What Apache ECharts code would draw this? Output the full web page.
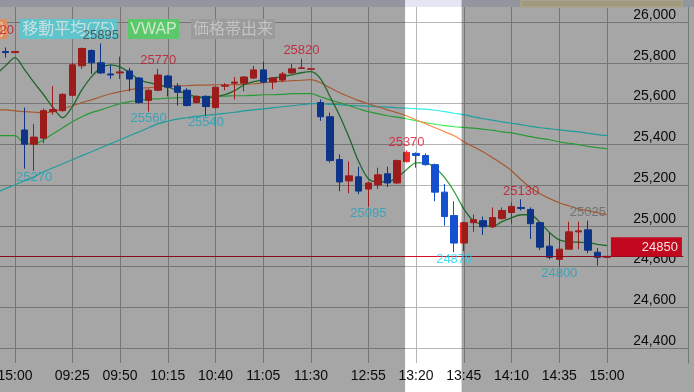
<!DOCTYPE html>
<html><head><meta charset="utf-8">
<script src="https://cdn.jsdelivr.net/npm/echarts@6/dist/echarts.min.js"></script>
<style>html,body{margin:0;padding:0;background:#fff}#c{width:694px;height:392px}</style>
</head><body><div id="c"></div>
<script>
// ---------- DATA ----------
const times = ['14:50','14:55','15:00',
'09:00','09:05','09:10','09:15','09:20','09:25','09:30','09:35','09:40','09:45','09:50','09:55',
'10:00','10:05','10:10','10:15','10:20','10:25','10:30','10:35','10:40','10:45','10:50','10:55',
'11:00','11:05','11:10','11:15','11:20','11:25','11:30',
'12:30','12:35','12:40','12:45','12:50','12:55','13:00','13:05','13:10','13:15','13:20','13:25',
'13:30','13:35','13:40','13:45','13:50','13:55','14:00','14:05','14:10','14:15','14:20','14:25',
'14:30','14:35','14:40','14:45','14:50','14:55','15:00',
'','','','','','','',''];
const tickLabels = ['15:00','09:25','09:50','10:15','10:40','11:05','11:30','12:55','13:20','13:45','14:10','14:35'];
const yTicks = [24400,24600,24800,25000,25200,25400,25600,25800,26000];

const opens  = [25870,25855,25850,25470,25400,25430,25560,25565,25640,25785,25860,25800,25745,25750,25760,25725,25615,25665,25735,25685,25665,25605,25635,25580,25685,25700,25700,25725,25765,25705,25715,25750,25772,25768,25605,25535,25325,25220,25240,25180,25200,25255,25210,25315,25355,25345,25300,25165,25050,24915,25015,25025,24995,25035,25065,25090,25080,25015,24900,24835,24885,24970,24980,24870,24845];
const closes = [25855,25850,25855,25400,25435,25565,25570,25645,25790,25870,25800,25750,25740,25755,25720,25605,25665,25740,25680,25655,25590,25635,25585,25680,25690,25705,25730,25765,25705,25725,25745,25770,25775,25770,25535,25320,25215,25245,25170,25210,25250,25210,25320,25360,25345,25300,25165,25045,24915,25015,25030,24995,25040,25075,25095,25085,25010,24895,24845,24885,24970,24975,24880,24845,24850];
const lows   = [25840,25825,25850,25280,25270,25405,25545,25560,25635,25770,25745,25745,25720,25720,25660,25600,25560,25660,25635,25590,25585,25600,25540,25575,25665,25620,25660,25720,25700,25670,25705,25745,25770,25765,25515,25310,25170,25160,25155,25095,25180,25190,25205,25310,25285,25295,25120,25000,24870,24875,24970,24955,24990,25030,25010,25075,24935,24880,24835,24800,24885,24885,24865,24805,24845];
const highs  = [25920,25875,25855,25580,25500,25575,25685,25650,25800,25875,25865,25895,25790,25830,25775,25730,25670,25770,25740,25700,25675,25640,25640,25685,25700,25730,25735,25785,25805,25730,25755,25795,25820,25772,25620,25555,25350,25315,25290,25215,25285,25290,25325,25370,25360,25355,25305,25205,25120,25020,25055,25045,25090,25090,25115,25130,25090,25020,24965,24935,25020,25020,25025,24890,24850];

const ma5  = [25741,25785,25825,25766,25702,25643,25579,25530,25584,25667,25731,25775,25790,25780,25751,25717,25702,25692,25682,25663,25648,25633,25628,25633,25643,25663,25692,25707,25717,25726,25731,25741,25751,25756,25721,25633,25540,25432,25314,25231,25216,25216,25236,25275,25309,25309,25285,25236,25167,25083,25025,25005,24995,25020,25039,25054,25054,25015,24966,24931,24921,24919,24917,24909,24902];
const ma25 = [25569,25569,25564,25560,25557,25555,25560,25574,25589,25604,25618,25633,25648,25658,25667,25675,25677,25682,25685,25687,25687,25690,25690,25692,25692,25692,25694,25697,25702,25707,25709,25712,25714,25717,25702,25677,25653,25633,25614,25599,25584,25569,25555,25540,25520,25501,25481,25461,25442,25412,25388,25363,25334,25304,25270,25226,25187,25157,25133,25113,25098,25083,25074,25064,25054];
const ma75 = [25162,25182,25201,25221,25240,25265,25285,25304,25324,25344,25363,25383,25402,25422,25442,25461,25481,25501,25513,25523,25530,25537,25542,25547,25552,25557,25564,25569,25574,25579,25584,25589,25594,25599,25599,25596,25594,25591,25589,25587,25584,25582,25579,25577,25574,25572,25567,25560,25552,25545,25535,25525,25518,25510,25503,25496,25488,25481,25476,25471,25466,25461,25454,25447,25442];
const vwap = [25442,25442,25442,25405,25402,25422,25452,25481,25510,25535,25555,25569,25584,25599,25609,25616,25621,25623,25626,25628,25631,25633,25633,25636,25636,25638,25638,25640,25643,25643,25645,25648,25648,25648,25633,25618,25604,25589,25574,25560,25550,25540,25533,25525,25515,25506,25498,25491,25486,25483,25479,25474,25469,25461,25456,25447,25437,25429,25422,25412,25405,25398,25390,25383,25378];

const highMarks = [[0,25920],[17,25770],[32,25820],[43,25370],[55,25130]];
const lowMarks  = [[4,25270],[16,25560],[22,25540],[39,25095],[48,24870],[59,24800]];
const grayMarks = [[11,25895],[62,25025]];
const currentPrice = 24850;
const highlightRange = [42.85, 48.77]; // highlighted time window, in category positions

// ---------- STYLE ----------
const FONT = '"Liberation Sans", Arial, "Noto Sans CJK JP", sans-serif';
const GRID = '#b6b6b6';
const RED = '#f02c2c', BLUE = '#1450d0';

const chart = echarts.init(document.getElementById('c'), null, {renderer: 'canvas'});
const candles = opens.map((o, i) => [o, closes[i], lows[i], highs[i]]);
const tickIdx = new Set();
times.forEach((t, i) => { if (tickLabels.indexOf(t) >= 0) tickIdx.add(i); });
const isTick = idx => tickIdx.has(idx);
const inBand = i => i >= highlightRange[0] && i <= highlightRange[1];

const labelPoints = [].concat(
  highMarks.map(([i, v]) => ({value: [i, v], label: {position: 'top', distance: 1, color: inBand(i) ? '#e4102a' : '#c0142a'}})),
  lowMarks.map(([i, v]) => ({value: [i, v], label: {position: 'bottom', distance: 0, color: inBand(i) ? '#12d6f6' : '#20a2bc'}})),
  grayMarks.map(([i, v], k) => ({value: [i, v], label: {position: 'top', distance: 1, color: k === 0 ? '#444444' : '#666666'}}))
);

function lineSeries(name, data, color, width) {
  return {type: 'line', name, xAxisIndex: 2, yAxisIndex: 2, data, showSymbol: false, symbol: 'none',
    smooth: 0.3, lineStyle: {color, width}, silent: true, z: 3};
}

const option = {
  animation: false,
  backgroundColor: '#ffffff',
  textStyle: {fontFamily: FONT},
  grid: [
    {left: -4.1, right: 10.6, top: 7, bottom: 29, outerBoundsMode: 'none'},
    {left: 0, right: 6, top: 22, bottom: 44, outerBoundsMode: 'none'},
    {left: -4.1, right: 10.6, top: 22, bottom: 44, outerBoundsMode: 'none'},
    {left: 0, right: 6, top: 7, bottom: 29, outerBoundsMode: 'none'}
  ],
  xAxis: [
    {gridIndex: 0, type: 'category', data: times, boundaryGap: false,
     axisLine: {show: false, onZero: false}, axisTick: {show: false},
     splitLine: {show: true, interval: isTick, lineStyle: {color: GRID, width: 1}},
     axisLabel: {interval: 0, formatter: (val, idx) => isTick(idx) ? val : '', hideOverlap: false,
       color: '#111', fontSize: 14, margin: 6, fontFamily: FONT}},
    {gridIndex: 1, type: 'value', show: false},
    {gridIndex: 2, type: 'category', data: times, boundaryGap: false, show: false, axisLine: {onZero: false}},
    {gridIndex: 3, type: 'value', show: false}
  ],
  yAxis: [
    {gridIndex: 0, type: 'value', show: false},
    {gridIndex: 1, type: 'value', min: yTicks[0], max: yTicks[yTicks.length - 1], interval: 200, position: 'right',
     axisLine: {show: false, onZero: false}, axisTick: {show: false},
     splitLine: {show: true, lineStyle: {color: GRID, width: 1}},
     axisLabel: {inside: true, margin: 12, verticalAlign: 'bottom', fontSize: 14, color: '#111', fontFamily: FONT,
       formatter: v => v.toLocaleString('en-US')}},
    {gridIndex: 2, type: 'value', min: yTicks[0], max: yTicks[yTicks.length - 1], show: false},
    {gridIndex: 3, type: 'value', position: 'right', axisLine: {show: true, onZero: false, lineStyle: {color: GRID}},
     axisTick: {show: false}, axisLabel: {show: false}, splitLine: {show: false}}
  ],
  series: [
    {type: 'candlestick', name: 'price', xAxisIndex: 2, yAxisIndex: 2, data: candles, barWidth: 7, silent: true, z: 4,
     itemStyle: {color: RED, color0: BLUE, borderColor: RED, borderColor0: BLUE, borderWidth: 1},
     markLine: {symbol: 'none', silent: true, label: {show: false},
       lineStyle: {color: '#d8102a', width: 1, type: 'solid'}, data: [{yAxis: currentPrice}]}},
    lineSeries('移動平均(75)', ma75, '#30eeee', 1.2),
    lineSeries('VWAP', vwap, '#40ec52', 1.2),
    lineSeries('移動平均(25)', ma25, '#ff884a', 1.2),
    lineSeries('移動平均(5)', ma5, '#30a040', 1.3),
    {type: 'scatter', name: 'marks', xAxisIndex: 2, yAxisIndex: 2, zlevel: 2, z: 10, silent: true, clip: false,
     symbolSize: 1, itemStyle: {color: 'rgba(0,0,0,0)'},
     label: {show: true, fontSize: 13, fontFamily: FONT, formatter: p => String(p.value[1])},
     data: labelPoints},
    {type: 'custom', name: 'last', xAxisIndex: 2, yAxisIndex: 2, zlevel: 2, z: 10, silent: true, clip: false,
     data: [[times.length - 1, currentPrice]],
     renderItem: (params, api) => {
       const p = api.coord([api.value(0), api.value(1)]);
       return {type: 'group', children: [
         {type: 'rect', shape: {x: p[0] - 72.5, y: p[1] - 19, width: 71, height: 19}, style: {fill: '#c2081e'}},
         {type: 'text', style: {text: String(api.value(1)), x: p[0] - 5.5, y: p[1] - 9, align: 'right', verticalAlign: 'middle',
           fill: '#f2e2e2', font: '13px ' + FONT}}
       ]};
     }}
  ]
};
chart.setOption(option);

// overlay dimming everything outside the highlighted window
const xAt = i => chart.convertToPixel({xAxisIndex: 2}, i);
const step = xAt(44) - xAt(43);
const posOf = f => xAt(Math.floor(f)) + (f - Math.floor(f)) * step;
const bandL = posOf(highlightRange[0]);
const bandR = posOf(highlightRange[1]);
const W = 694, H = 392;
const legendFont = '16px ' + FONT;
function box(x, w, fill, text, color, align) {
  return [
    {type: 'rect', zlevel: 2, z: 0, silent: true, shape: {x, y: 19, width: w, height: 20}, style: {fill}},
    {type: 'text', zlevel: 2, z: 1, silent: true, style: {text, x: align === 'right' ? x + w - 2 : x + w / 2, y: 29.5,
      align: align || 'center', verticalAlign: 'middle', fill: color, font: legendFont}}
  ];
}
chart.setOption({graphic: [].concat(
  [{type: 'rect', z: 100, silent: true, shape: {x: 0, y: 0, width: W, height: 7}, style: {fill: '#e4e6f4'}},
   {type: 'rect', z: 101, silent: true, shape: {x: 521, y: 0, width: 161, height: 7}, style: {fill: '#f6ecc0', stroke: '#fff8dc', lineWidth: 2}},
   {type: 'rect', zlevel: 1, silent: true, shape: {x: 0, y: 0, width: bandL, height: H}, style: {fill: 'rgba(0,0,0,0.35)'}},
   {type: 'rect', zlevel: 1, silent: true, shape: {x: bandR, y: 0, width: W - bandR, height: H}, style: {fill: 'rgba(0,0,0,0.35)'}}],
  box(-90, 97, '#dc9062', '移動平均(25)', '#f0d2bc', 'right'),
  box(20, 97, '#60c4cc', '移動平均(75)', '#c6e0e0'),
  box(128, 51, '#5cc86c', 'VWAP', '#cdeacd'),
  box(191, 84, '#9b9b9b', '価格帯出来', '#c2c2c2')
)});
</script>
</body></html>
